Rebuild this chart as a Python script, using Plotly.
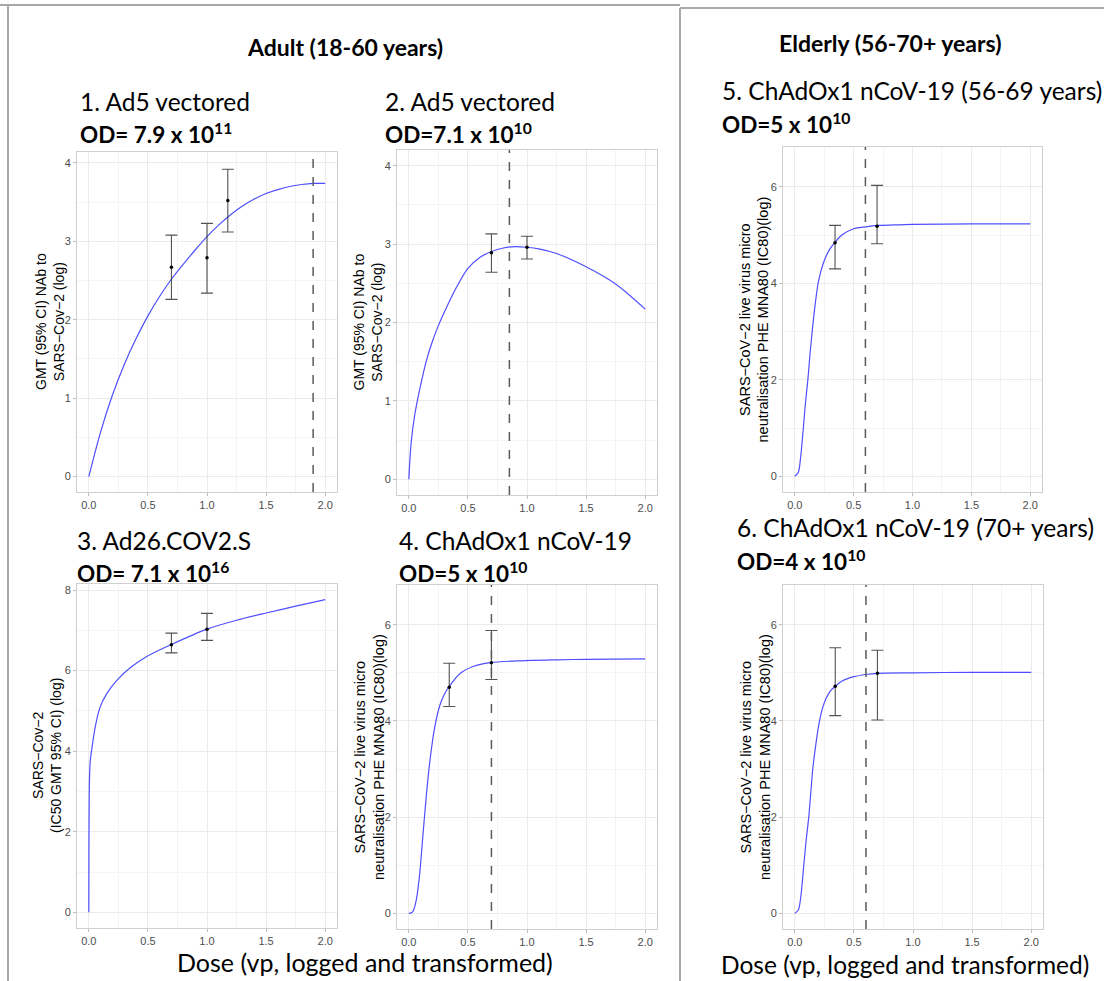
import plotly.graph_objects as go

# ---------------- data ----------------
x_ticks = [0.0, 0.5, 1.0, 1.5, 2.0]
x_tick_labels = ["0.0", "0.5", "1.0", "1.5", "2.0"]

# Panel 1: Ad5 vectored (adult)
p1_curve_x = [0, 0.1, 0.2, 0.3, 0.4, 0.5, 0.6, 0.7, 0.8, 0.9, 1.0, 1.1, 1.2, 1.3, 1.4, 1.5, 1.6, 1.7, 1.8, 1.9, 2.0]
p1_curve_y = [0, 0.57, 1.04, 1.43, 1.76, 2.05, 2.30, 2.52, 2.71, 2.89, 3.06, 3.21, 3.34, 3.45, 3.54, 3.61, 3.66, 3.70, 3.725, 3.74, 3.74]
p1_dose = [0.699, 1.0, 1.176]
p1_gmt = [2.67, 2.79, 3.52]
p1_hi = [3.08, 3.23, 3.92]
p1_lo = [2.26, 2.34, 3.12]
p1_od = 1.898

# Panel 2: Ad5 vectored
p2_curve_x = [0, 0.02, 0.05, 0.1, 0.15, 0.2, 0.25, 0.3, 0.4, 0.5, 0.6, 0.7, 0.8, 0.9, 1.0, 1.1, 1.25, 1.5, 1.75, 2.0]
p2_curve_y = [0, 0.47, 0.82, 1.2, 1.52, 1.76, 1.96, 2.13, 2.44, 2.69, 2.83, 2.905, 2.95, 2.968, 2.96, 2.94, 2.88, 2.71, 2.49, 2.17]
p2_dose = [0.699, 1.0]
p2_gmt = [2.89, 2.96]
p2_hi = [3.13, 3.10]
p2_lo = [2.64, 2.81]
p2_od = 0.851

# Panel 3: Ad26.COV2.S
p3_curve_x = [0, 0.001, 0.003, 0.006, 0.012, 0.025, 0.054, 0.096, 0.152, 0.237, 0.35, 0.49, 0.7, 1.0, 1.25, 1.5, 1.75, 2.0]
p3_curve_y = [0, 1.6, 2.7, 3.35, 3.75, 4.05, 4.6, 5.1, 5.43, 5.76, 6.07, 6.35, 6.65, 7.03, 7.25, 7.43, 7.60, 7.76]
p3_dose = [0.699, 1.0]
p3_gmt = [6.64, 7.03]
p3_hi = [6.93, 7.42]
p3_lo = [6.44, 6.75]
p3_od = None

# Panel 4: ChAdOx1 nCoV-19 (adult)
p4_curve_x = [0, 0.02, 0.037, 0.065, 0.093, 0.121, 0.15, 0.183, 0.22, 0.262, 0.3, 0.338, 0.431, 0.544, 0.69, 0.94, 1.25, 1.5, 2.0]
p4_curve_y = [0, 0.01, 0.05, 0.30, 0.85, 1.67, 2.5, 3.26, 3.88, 4.32, 4.55, 4.70, 4.98, 5.13, 5.21, 5.25, 5.27, 5.28, 5.29]
p4_dose = [0.342, 0.699]
p4_gmt = [4.70, 5.21]
p4_hi = [5.20, 5.88]
p4_lo = [4.30, 4.86]
p4_od = 0.699

# Panel 5: ChAdOx1 nCoV-19 (56-69 years)
p5_curve_x = [0, 0.03, 0.05, 0.071, 0.09, 0.113, 0.13, 0.15, 0.175, 0.198, 0.225, 0.255, 0.3, 0.342, 0.4, 0.5, 0.6, 0.7, 0.85, 1.0, 1.5, 2.0]
p5_curve_y = [0, 0.08, 0.4, 0.95, 1.5, 2.05, 2.55, 3.05, 3.6, 4.0, 4.28, 4.5, 4.72, 4.85, 5.0, 5.13, 5.17, 5.2, 5.21, 5.22, 5.23, 5.23]
p5_dose = [0.342, 0.699]
p5_gmt = [4.84, 5.18]
p5_hi = [5.20, 6.03]
p5_lo = [4.30, 4.82]
p5_od = 0.6

# Panel 6: ChAdOx1 nCoV-19 (70+ years)
p6_curve_x = [0, 0.03, 0.05, 0.076, 0.095, 0.118, 0.135, 0.152, 0.18, 0.209, 0.235, 0.265, 0.3, 0.342, 0.4, 0.5, 0.6, 0.7, 1.0, 1.5, 2.0]
p6_curve_y = [0, 0.07, 0.33, 1.0, 1.5, 2.0, 2.5, 3.0, 3.55, 4.0, 4.27, 4.47, 4.62, 4.72, 4.83, 4.92, 4.965, 4.99, 5.0, 5.01, 5.01]
p6_dose = [0.342, 0.699]
p6_gmt = [4.72, 4.99]
p6_hi = [5.52, 5.47]
p6_lo = [4.11, 4.02]
p6_od = 0.602

panel_titles = ["1. Ad5 vectored", "2. Ad5 vectored", "3. Ad26.COV2.S",
                "4. ChAdOx1 nCoV-19", "5. ChAdOx1 nCoV-19 (56-69 years)", "6. ChAdOx1 nCoV-19 (70+ years)"]
panel_od_text = ["OD= 7.9 x 10<sup>11</sup>", "OD=7.1 x 10<sup>10</sup>", "OD= 7.1 x 10<sup>16</sup>",
                 "OD=5 x 10<sup>10</sup>", "OD=5 x 10<sup>10</sup>", "OD=4 x 10<sup>10</sup>"]
y_titles = ["GMT (95% CI) NAb to<br>SARS\u2212Cov\u22122 (log)",
            "GMT (95% CI) NAb to<br>SARS\u2212Cov\u22122 (log)",
            "SARS\u2212Cov\u22122<br>(IC50 GMT 95% CI) (log)",
            "SARS\u2212CoV\u22122 live virus micro<br>neutralisation PHE MNA80 (IC80)(log)",
            "SARS\u2212CoV\u22122 live virus micro<br>neutralisation PHE MNA80 (IC80)(log)",
            "SARS\u2212CoV\u22122 live virus micro<br>neutralisation PHE MNA80 (IC80)(log)"]
group_titles = ["Adult (18-60 years)", "Elderly (56-70+ years)"]
x_title = "Dose (vp, logged and transformed)"

# ---------------- layout geometry (pixels) ----------------
W, H = 1104, 981


def xd(a, b):
    return [a / W, b / W]


def yd(top, bottom):
    return [1 - bottom / H, 1 - top / H]


def px(v):
    return v / W


def py(v):
    return 1 - v / H


# plot boxes: (left, right, top, bottom)
boxes = [(77, 337, 152, 492), (397, 657, 150, 495), (77, 337, 584, 928),
         (397, 657, 585, 929), (783, 1042, 147, 492), (783, 1043, 585, 929)]
y_ranges = [[-0.197, 4.14], [-0.2, 4.2], [-0.388, 8.15],
            [-0.325, 6.825], [-0.325, 6.825], [-0.325, 6.825]]
y_major = [1, 1, 2, 2, 2, 2]
ytitle_x = [50, 367, 47, 369, 754, 755]
ytitle_size = [14, 14, 14, 14.5, 14.5, 14.5]
title_pos = [(78, 102, 133), (383, 102, 133), (75, 540, 572),
             (397, 540, 572), (720, 90, 123), (735, 527, 560)]

data = [
    (p1_curve_x, p1_curve_y, p1_dose, p1_gmt, p1_hi, p1_lo, p1_od),
    (p2_curve_x, p2_curve_y, p2_dose, p2_gmt, p2_hi, p2_lo, p2_od),
    (p3_curve_x, p3_curve_y, p3_dose, p3_gmt, p3_hi, p3_lo, p3_od),
    (p4_curve_x, p4_curve_y, p4_dose, p4_gmt, p4_hi, p4_lo, p4_od),
    (p5_curve_x, p5_curve_y, p5_dose, p5_gmt, p5_hi, p5_lo, p5_od),
    (p6_curve_x, p6_curve_y, p6_dose, p6_gmt, p6_hi, p6_lo, p6_od),
]

fig = go.Figure()
shapes = []
annotations = []
layout_axes = {}

TITLE_FONT = "Lato, 'Open Sans', sans-serif"
AX_FONT = "'Liberation Sans', Arial, sans-serif"

for i, (cx, cy, dx, gy, hi, lo, od) in enumerate(data, start=1):
    xa = "x" if i == 1 else f"x{i}"
    ya = "y" if i == 1 else f"y{i}"
    fig.add_trace(go.Scatter(
        x=cx, y=cy, mode="lines", xaxis=xa, yaxis=ya, showlegend=False,
        line=dict(color="rgba(60,60,255,0.9)", width=1.2, shape="spline", smoothing=0.8),
        hoverinfo="skip"))
    fig.add_trace(go.Scatter(
        x=dx, y=gy, mode="markers", xaxis=xa, yaxis=ya, showlegend=False,
        marker=dict(size=3.5, color="black"),
        error_y=dict(type="data", symmetric=False,
                     array=[h - g for h, g in zip(hi, gy)],
                     arrayminus=[g - l for g, l in zip(gy, lo)],
                     color="rgba(40,40,40,0.8)", thickness=1.1, width=6)))
    l, r, t, b = boxes[i - 1]
    yr = y_ranges[i - 1]
    common = dict(showline=True, mirror=True, linecolor="#CFCFCF", linewidth=1,
                  showgrid=True, gridcolor="#EBEBEB", gridwidth=0.8, zeroline=False,
                  ticks="outside", ticklen=3, tickcolor="#BDBDBD", tickwidth=1,
                  tickfont=dict(family=AX_FONT, size=11, color="#4D4D4D"),
                  fixedrange=True)
    layout_axes["xaxis" if i == 1 else f"xaxis{i}"] = dict(
        domain=xd(l, r), anchor=ya, range=[-0.1, 2.1],
        tickvals=x_ticks, ticktext=x_tick_labels,
        minor=dict(dtick=0.25, tick0=0, showgrid=True, gridcolor="#F4F4F4", gridwidth=0.6, ticks=""),
        **common)
    layout_axes["yaxis" if i == 1 else f"yaxis{i}"] = dict(
        domain=yd(t, b), anchor=xa, range=yr, dtick=y_major[i - 1], tick0=0,
        minor=dict(dtick=y_major[i - 1] / 2, tick0=0, showgrid=True, gridcolor="#F4F4F4", gridwidth=0.6, ticks=""),
        **common)
    if od is not None:
        shapes.append(dict(type="line", xref=xa, yref=f"{ya} domain", x0=od, x1=od, y0=0, y1=1,
                           line=dict(color="#5A5A5A", width=1.5, dash="dash")))
    annotations.append(dict(x=px(ytitle_x[i - 1]), y=py((t + b) / 2), xref="paper", yref="paper",
                            text=y_titles[i - 1], textangle=-90, showarrow=False,
                            xanchor="center", yanchor="middle",
                            font=dict(family=AX_FONT, size=ytitle_size[i - 1], color="black")))
    tx, ty1, ty2 = title_pos[i - 1]
    annotations.append(dict(x=px(tx), y=py(ty1), xref="paper", yref="paper", text=panel_titles[i - 1],
                            showarrow=False, xanchor="left", yanchor="middle",
                            font=dict(family=TITLE_FONT, size=24.5, color="black")))
    annotations.append(dict(x=px(tx), y=py(ty2), xref="paper", yref="paper",
                            text="<b>" + panel_od_text[i - 1] + "</b>",
                            showarrow=False, xanchor="left", yanchor="middle",
                            font=dict(family=TITLE_FONT, size=22.5, color="black")))

# group titles
annotations.append(dict(x=px(345), y=py(47), xref="paper", yref="paper", text="<b>" + group_titles[0] + "</b>",
                        showarrow=False, xanchor="center", yanchor="middle",
                        font=dict(family=TITLE_FONT, size=23, color="black")))
annotations.append(dict(x=px(890), y=py(43), xref="paper", yref="paper", text="<b>" + group_titles[1] + "</b>",
                        showarrow=False, xanchor="center", yanchor="middle",
                        font=dict(family=TITLE_FONT, size=23, color="black")))
# x titles
annotations.append(dict(x=px(365), y=py(962), xref="paper", yref="paper", text=x_title,
                        showarrow=False, xanchor="center", yanchor="middle",
                        font=dict(family=TITLE_FONT, size=25, color="black")))
annotations.append(dict(x=px(905), y=py(964), xref="paper", yref="paper", text=x_title,
                        showarrow=False, xanchor="center", yanchor="middle",
                        font=dict(family=TITLE_FONT, size=24.5, color="black")))

# frame lines of the composite
frame = dict(color="#A8A8A8", width=2)
shapes += [
    dict(type="line", xref="paper", yref="paper", x0=0, x1=px(680), y0=py(5), y1=py(5), line=frame),
    dict(type="line", xref="paper", yref="paper", x0=px(8), x1=px(8), y0=py(5), y1=0, line=frame),
    dict(type="line", xref="paper", yref="paper", x0=px(680), x1=px(680), y0=py(8), y1=0, line=frame),
    dict(type="line", xref="paper", yref="paper", x0=px(680), x1=1, y0=py(8), y1=py(8), line=frame),
]

fig.update_layout(width=W, height=H, margin=dict(l=0, r=0, t=0, b=0),
                  paper_bgcolor="white", plot_bgcolor="white",
                  shapes=shapes, annotations=annotations, showlegend=False, **layout_axes)

fig.write_html("out.html", config={"displayModeBar": False},
               post_script="document.body.style.margin='0';document.body.style.overflow='hidden';")
